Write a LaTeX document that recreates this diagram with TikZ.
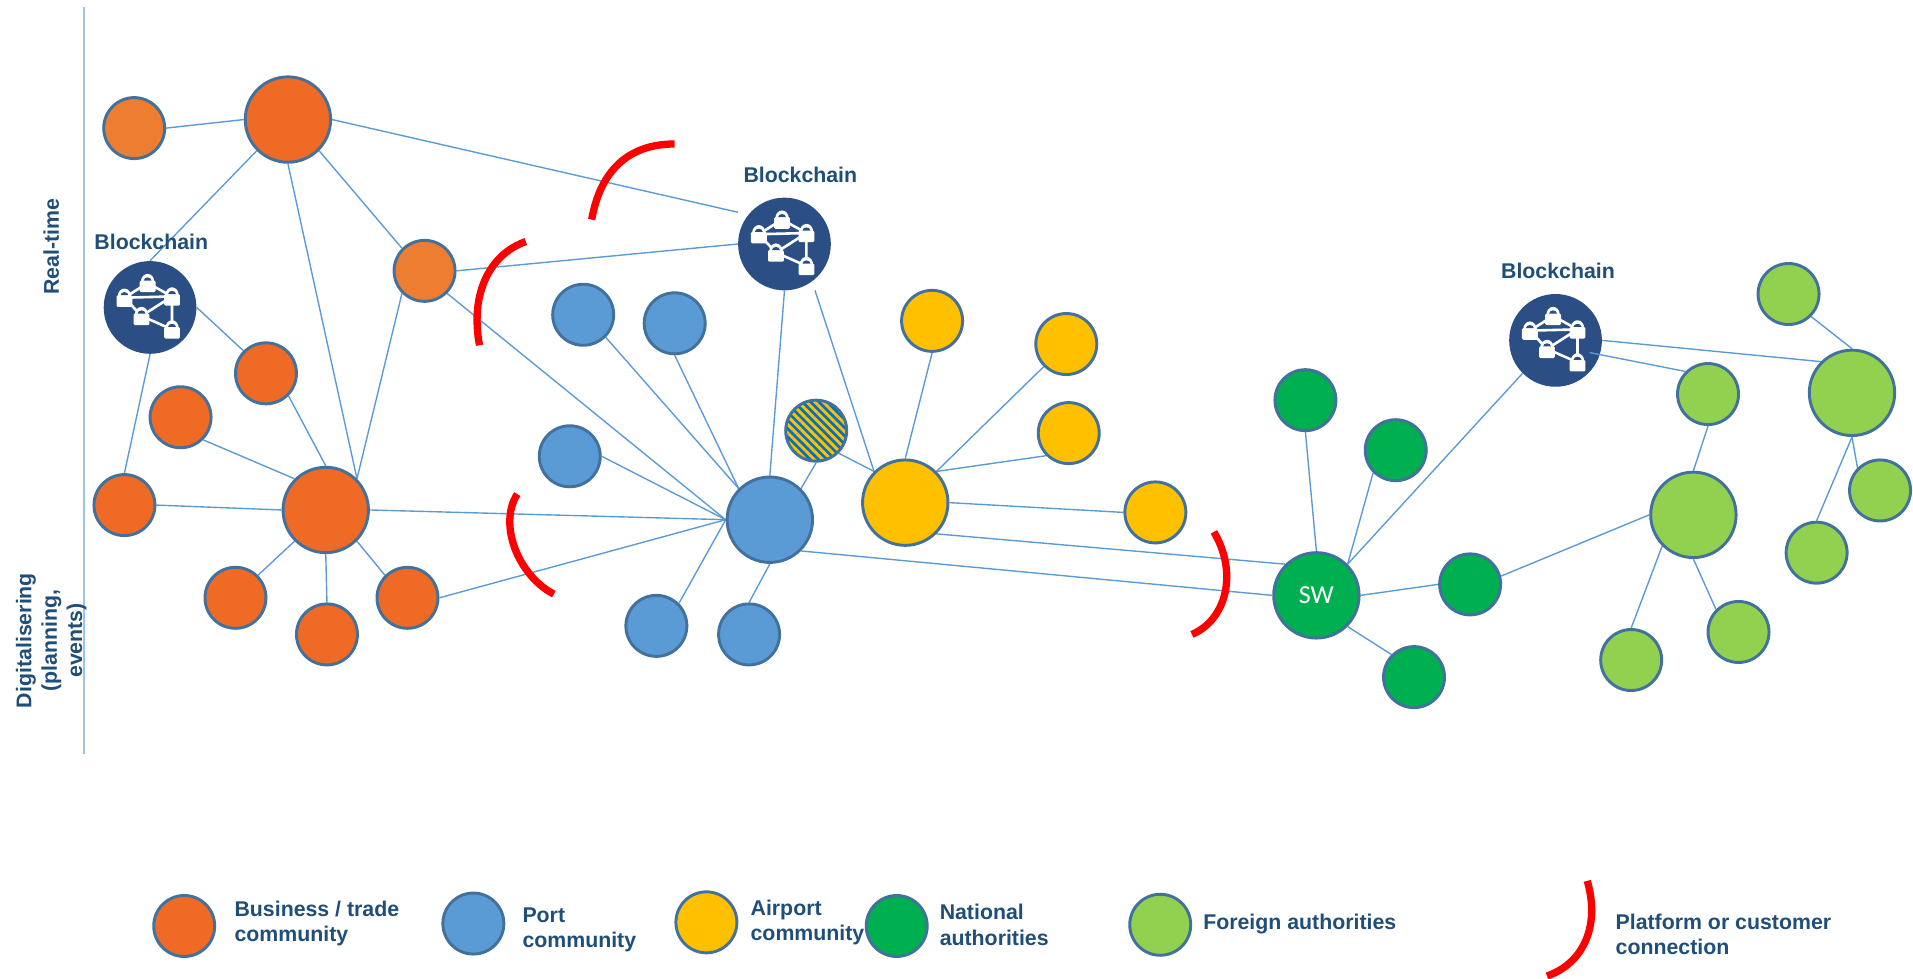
\documentclass[tikz,border=0pt]{standalone}
\usepackage{fontspec}
\setmainfont{Liberation Sans}
\newfontfamily\swfont{Carlito}
\usetikzlibrary{backgrounds,patterns.meta}
\definecolor{bizorange}{HTML}{EE6A25}
\definecolor{bizlight}{HTML}{ED7D31}
\definecolor{portblue}{HTML}{5B9BD5}
\definecolor{stripeblue}{HTML}{0070C0}
\definecolor{airyellow}{HTML}{FFC000}
\definecolor{natgreen}{HTML}{00B050}
\definecolor{forgreen}{HTML}{92D050}
\definecolor{rimblue}{HTML}{41719C}
\definecolor{chainblue}{HTML}{2B4F85}
\definecolor{labelblue}{HTML}{1F4E79}
\definecolor{axisblue}{HTML}{9DC3E6}
\tikzset{
  x=0.75pt, y=-0.75pt,
  small/.style={circle,draw=rimblue,line width=1.8pt,minimum size=37.5pt,inner sep=0pt},
  large/.style={circle,draw=rimblue,line width=1.8pt,minimum size=52.5pt,inner sep=0pt},
  chain/.style={circle,fill=chainblue,minimum size=57pt,inner sep=0pt},
  link/.style={portblue,line width=0.85pt},
  platform/.style={red,line width=4.5pt},
  caption/.style={font=\bfseries\fontsize{13.1}{15.6}\selectfont,text=labelblue,inner sep=0pt},
  legendtext/.style={caption,align=left,anchor=west},
  padlock/.pic={
    \fill[white,rounded corners=0.8pt] (-6.5,-2) rectangle (6.5,7.5);
    \fill[white] (-5.5,-1) arc[start angle=180,end angle=360,x radius=5.5,y radius=6.5] -- cycle;
    \fill[chainblue] (-3.2,-2) arc[start angle=180,end angle=360,x radius=3.2,y radius=2.6] -- cycle;
  },
  chainicon/.pic={
    \draw[white,line width=1.6pt] (-2,-20) -- (-21,-8) -- (18,-9) -- cycle
      (-21,-8) -- (-7,7) -- (18,-9) -- (18,18) -- (-7,7);
    \foreach \lx/\ly in {-2/-20,-21/-8,18/-9,-7/7,18/18}
      \pic at (\lx,\ly) {padlock};
  }
}
\begin{document}
\begin{tikzpicture}
  \useasboundingbox (0,0) rectangle (1568,802);

  % axis
  \coordinate (axistop) at (69,6);
  \coordinate (axisend) at (69,618);
  \draw[axisblue,line width=1pt] (axistop) -- (axisend);
  \node[caption,rotate=90] (realtime) at (42,202) {Real-time};
  \node[caption,rotate=90,align=center] (digital) at (42,525) {Digitalisering\\(planning,\\events)};

  % business / trade
  \node[small,fill=bizlight] (a1) at (110,105) {};
  \node[large,fill=bizorange] (a2) at (236,98) {};
  \node[small,fill=bizlight] (a3) at (348,222) {};
  \node[small,fill=bizorange] (a4) at (218,306) {};
  \node[small,fill=bizorange] (a5) at (148,342) {};
  \node[small,fill=bizorange] (a6) at (102,414) {};
  \node[large,fill=bizorange] (a7) at (267,418) {};
  \node[small,fill=bizorange] (a8) at (193,490) {};
  \node[small,fill=bizorange] (a9) at (268,520) {};
  \node[small,fill=bizorange] (a10) at (334,490) {};

  % port
  \node[small,fill=portblue] (b1) at (478,258) {};
  \node[small,fill=portblue] (b2) at (553,265) {};
  \node[small,fill=portblue] (b3) at (467,374) {};
  \node[large,fill=portblue] (b4) at (631,426) {};
  \node[small,fill=portblue] (b5) at (538,513) {};
  \node[small,fill=portblue] (b6) at (614,520) {};
  \node[small,preaction={fill=stripeblue},pattern={Lines[angle=-45,distance=3.6pt,line width=1.8pt]},pattern color=airyellow] (mixed) at (669,353) {};

  % airport
  \node[small,fill=airyellow] (y1) at (764,263) {};
  \node[small,fill=airyellow] (y2) at (874,282) {};
  \node[small,fill=airyellow] (y3) at (876,355) {};
  \node[small,fill=airyellow] (y4) at (947,420) {};
  \node[large,fill=airyellow] (y5) at (742,412) {};

  % national
  \node[small,fill=natgreen] (g1) at (1070,328) {};
  \node[small,fill=natgreen] (g2) at (1144,369) {};
  \node[large,fill=natgreen,text=white,font=\swfont\fontsize{16}{18}\selectfont] (sw) at (1079,488) {SW};
  \node[small,fill=natgreen] (g3) at (1205,479) {};
  \node[small,fill=natgreen] (g4) at (1159,555) {};

  % foreign
  \node[small,fill=forgreen] (f1) at (1466,241) {};
  \node[large,fill=forgreen] (f2) at (1518,322) {};
  \node[small,fill=forgreen] (f3) at (1400,323) {};
  \node[small,fill=forgreen] (f4) at (1541,402) {};
  \node[small,fill=forgreen] (f5) at (1489,453) {};
  \node[large,fill=forgreen] (f6) at (1388,422) {};
  \node[small,fill=forgreen] (f7) at (1425,518) {};
  \node[small,fill=forgreen] (f8) at (1337,541) {};

  % blockchains
  \node[chain] (c1) at (123,252) {};
  \node[chain] (c2) at (643,200) {};
  \node[chain] (c3) at (1275,279) {};
  \foreach \c in {c1,c2,c3}
    \pic at (\c) {chainicon};
  \node[caption] (c1text) at (124,198) {Blockchain};
  \node[caption] (c2text) at (656,143) {Blockchain};
  \node[caption] (c3text) at (1277,222) {Blockchain};
  \coordinate (c2corner) at (605,174);
  \coordinate (c2foot) at (668,238);
  \coordinate (c3inner) at (1303,289);

  % links
  \begin{scope}[on background layer]
    \foreach \p/\q in {a1.east/a2.west,a2.south west/c1.north,a2.south east/a3.north west,a2.south/a7.north east,
        a2.east/c2corner,a3.east/c2.west,a3.south west/a7.north east,a3.south east/b4.west,
        c1.east/a4.north west,c1.south/a6.north,a4.south east/a7.north,a5.south east/a7.north west,a6.east/a7.west,
        a7.south west/a8.north east,a7.south/a9.north,a7.south east/a10.north west,a7.east/b4.west,a10.east/b4.west,
        b1.south east/b4.north west,b2.south/b4.north west,b3.east/b4.west,b5.north east/b4.west,b6.north/b4.south,
        mixed.south/b4.north east,mixed.south east/y5.north west,c2.south/b4.north,c2foot/y5.north west,
        y1.south/y5.north,y2.south west/y5.north east,y3.south west/y5.north east,y4.west/y5.east,
        y5.south east/sw.north west,b4.south east/sw.west,
        g1.south/sw.north,g2.south west/sw.north east,g3.west/sw.east,g4.north west/sw.south east,c3.south west/sw.north east,
        c3.east/f2.north west,f3.south/f6.north,f1.south east/f2.north,f2.south/f4.north west,f2.south/f5.north,
        g3.15/f6.west,f6.south/f7.north west,f6.south west/f8.north}
      \draw[link] (\p) -- (\q);
  \end{scope}
  \draw[link] (c3inner) -- (f3.north west);

  % platform connections
  \draw[platform] (553,118) .. controls (515,118) and (492,140) .. (485,180);
  \draw[platform] (431,198) .. controls (402,208) and (385,240) .. (393,283);
  \draw[platform] (424,405) .. controls (408,430) and (425,472) .. (454,487);
  \draw[platform] (995,436) .. controls (1015,470) and (1005,508) .. (977,520);

  % legend
  \node[small,fill=bizorange] (l1) at (151,759) {};
  \node[small,fill=portblue] (l2) at (388,757) {};
  \node[small,fill=airyellow] (l3) at (579,756) {};
  \node[small,fill=natgreen] (l4) at (735,759) {};
  \node[small,fill=forgreen] (l5) at (951,758) {};
  \node[legendtext] (l1text) at (192,757) {Business / trade\\community};
  \node[legendtext] (l2text) at (428,762) {Port\\community};
  \node[legendtext] (l3text) at (615,756) {Airport\\community};
  \node[legendtext] (l4text) at (770,758) {National\\authorities};
  \node[legendtext] (l5text) at (986,757) {Foreign authorities};
  \node[legendtext] (l6text) at (1324,766) {Platform or customer\\connection};
  \draw[platform] (1301,722) .. controls (1312,760) and (1297,790) .. (1268,800);
\end{tikzpicture}
\end{document}
